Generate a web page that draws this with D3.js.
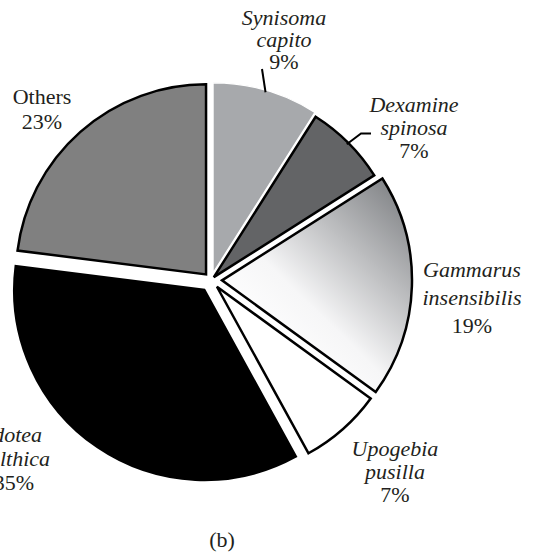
<!DOCTYPE html>
<html>
<head>
<meta charset="utf-8">
<script src="https://cdn.jsdelivr.net/npm/d3@7"></script>
<style>
  body { margin: 0; background: #fff; }
  svg { display: block; }
  text { font-family: "Liberation Serif", "Times New Roman", serif; fill: #231f20; }
</style>
</head>
<body>
<div id="chart"></div>
<script>
// species and their share of the catch (%)
const genus = ['Synisoma', 'Dexamine', 'Gammarus', 'Upogebia', 'Idotea', 'Others'];
const species = ['capito', 'spinosa', 'insensibilis', 'pusilla', 'balthica', ''];
const percents = [9, 7, 19, 7, 35, 23];

const width = 535, height = 555;
const cx = 211, cy = 280, radius = 190;

// how far each slice is pulled out of the pie
const explode = [7.5, 4, 11, 9, 12, 7.5];
const fills = ['#a7a9ac', '#636466', 'url(#gamGrad)', '#ffffff', '#000000', '#808080'];
const strokes = ['#ffffff', '#000', '#000', '#000', '#000', '#000'];
// label anchor (x, first baseline) and line spacing
const labelPos = [[284, 25, 22], [414, 112, 23], [472, 277, 28], [395, 456, 23], [14, 442, 24], [42, 104, 24.5]];

const svg = d3.select('#chart')
  .append('svg')
  .attr('width', width)
  .attr('height', height);

const defs = svg.append('defs');
const grad = defs.append('linearGradient')
  .attr('id', 'gamGrad')
  .attr('x1', 0.25).attr('y1', 0.8)
  .attr('x2', 0.9).attr('y2', 0.05);
grad.append('stop').attr('offset', 0).attr('stop-color', '#ffffff');
grad.append('stop').attr('offset', 0.3).attr('stop-color', '#f6f6f7');
grad.append('stop').attr('offset', 1).attr('stop-color', '#85878a');

const pie = d3.pie().sort(null).value(d => d)(percents);
const arc = d3.arc().innerRadius(0).outerRadius(radius);

const g = svg.append('g').attr('transform', `translate(${cx},${cy})`);

const offset = (d, i) => {
  const mid = (d.startAngle + d.endAngle) / 2;
  return [explode[i] * Math.sin(mid), -explode[i] * Math.cos(mid)];
};

g.selectAll('path.slice')
  .data(pie)
  .enter().append('path')
  .attr('class', 'slice')
  .attr('d', arc)
  .attr('transform', (d, i) => `translate(${offset(d, i)})`)
  .attr('fill', (d, i) => fills[i])
  .attr('stroke', (d, i) => strokes[i])
  .attr('stroke-width', (d, i) => i === 0 ? 1.2 : 2.5)
  .attr('stroke-linejoin', 'miter');

// leader lines for the two top labels
const onArc = (d, i, r) => {
  const mid = (d.startAngle + d.endAngle) / 2;
  const [ox, oy] = offset(d, i);
  return [cx + ox + r * Math.sin(mid), cy + oy - r * Math.cos(mid)];
};
const s0 = onArc(pie[0], 0, radius - 2);
svg.append('path')
  .attr('d', `M${s0}L262,69`)
  .attr('stroke', '#000').attr('stroke-width', 2).attr('fill', 'none');
const s1 = onArc(pie[1], 1, radius - 2);
svg.append('path')
  .attr('d', `M${s1}L361,133.5L371,133.5`)
  .attr('stroke', '#000').attr('stroke-width', 2).attr('fill', 'none');

// labels
pie.forEach((d, i) => {
  const [x, y, lh] = labelPos[i];
  const t = svg.append('text')
    .attr('x', x).attr('y', y)
    .attr('text-anchor', 'middle')
    .style('font-size', '22px');
  if (species[i]) {
    t.append('tspan').attr('x', x).attr('font-style', 'italic').text(genus[i]);
    t.append('tspan').attr('x', x).attr('dy', lh).attr('font-style', 'italic').text(species[i]);
  } else {
    t.append('tspan').attr('x', x).text(genus[i]);
  }
  t.append('tspan').attr('x', x).attr('dy', lh).text(percents[i] + '%');
});

svg.append('text')
  .attr('x', 222).attr('y', 547)
  .attr('text-anchor', 'middle')
  .style('font-size', '22px')
  .text('(b)');
</script>
</body>
</html>
